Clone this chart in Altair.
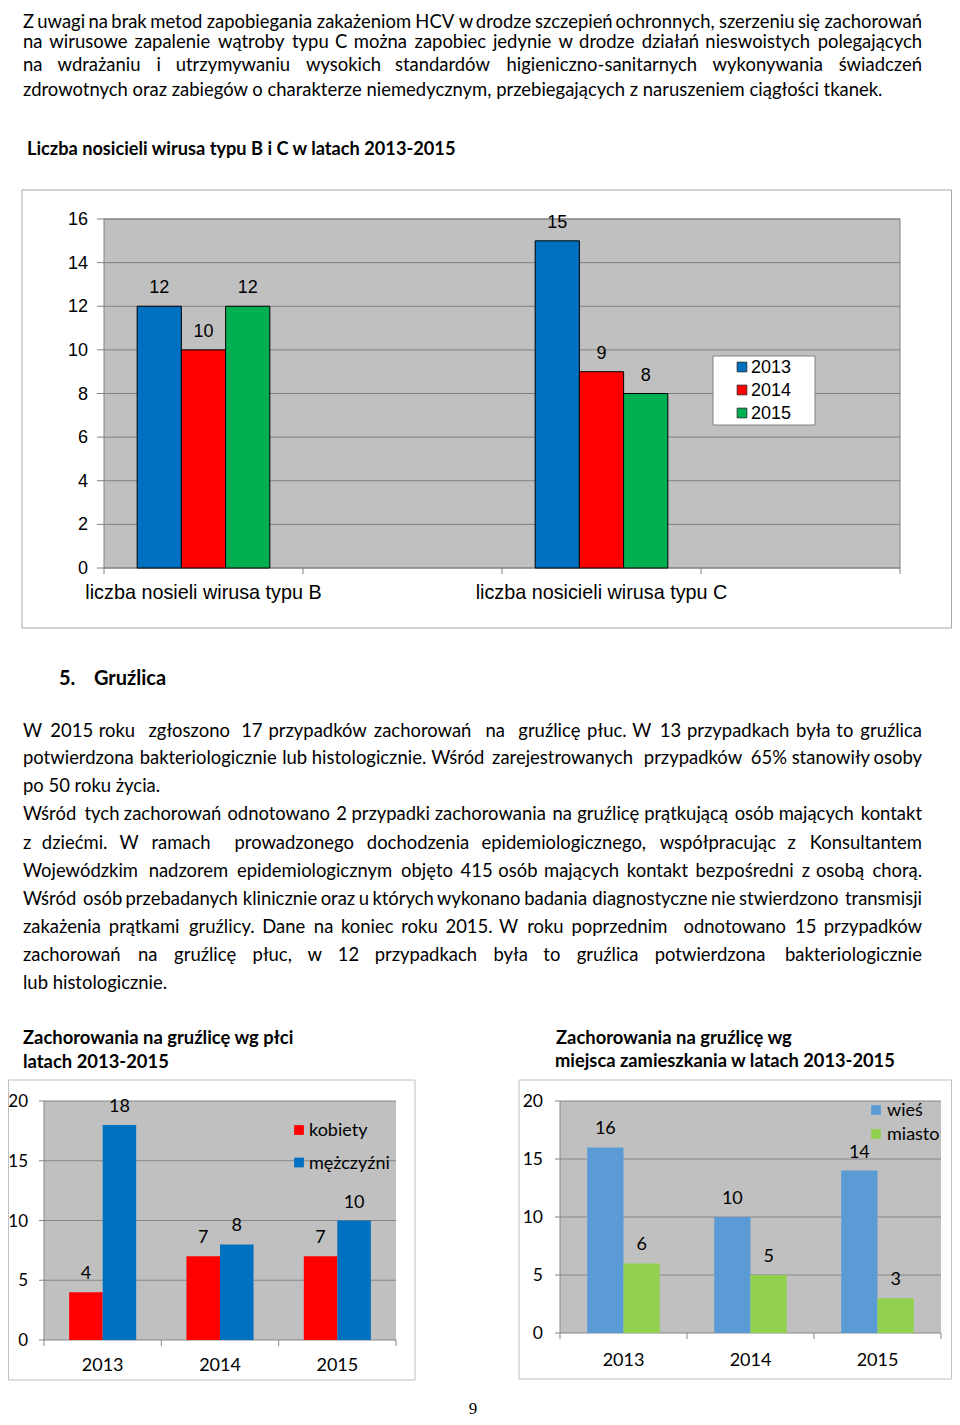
import altair as alt
import pandas as pd
import unicodedata

W, H = 944, 1409
OX, OY = 8, 8


def cx(v):
    return v - OX


def cy(v):
    return v - OY


# ---------------- chart data ----------------
carrier_groups = ["liczba nosieli wirusa typu B", "liczba nosicieli wirusa typu C"]
carrier_years = ["2013", "2014", "2015"]
carriers_2013 = [12, 15]
carriers_2014 = [10, 9]
carriers_2015 = [12, 8]
carrier_colors = ["#0070C0", "#FF0000", "#00B050"]
carrier_ticks = [0, 2, 4, 6, 8, 10, 12, 14, 16]

tb_years = ["2013", "2014", "2015"]
tb_sex = ["kobiety", "mężczyźni"]
tb_women = [4, 7, 7]
tb_men = [18, 8, 10]
sex_colors = ["#FF0000", "#0070C0"]

tb_place = ["wieś", "miasto"]
tb_village = [16, 10, 14]
tb_city = [6, 5, 3]
place_colors = ["#5B9BD5", "#92D050"]
tb_ticks = [0, 5, 10, 15, 20]

# ---------------- page text ----------------
para1 = [
    ("Z uwagi na brak metod zapobiegania zakażeniom HCV w drodze szczepień ochronnych, szerzeniu się zachorowań", 20.5, True),
    ("na wirusowe zapalenie wątroby typu C można zapobiec jedynie w drodze działań nieswoistych polegających", 41, True),
    ("na wdrażaniu i utrzymywaniu wysokich standardów higieniczno-sanitarnych wykonywania świadczeń", 64, True),
    ("zdrowotnych oraz zabiegów o charakterze niemedycznym, przebiegających z naruszeniem ciągłości tkanek.", 89, False),
]
para2 = [
    ("W 2015 roku  zgłoszono  17 przypadków zachorowań  na  gruźlicę płuc. W 13 przypadkach była to gruźlica", 730, True),
    ("potwierdzona bakteriologicznie lub histologicznie. Wśród zarejestrowanych  przypadków  65% stanowiły osoby", 757, True),
    ("po 50 roku życia.", 785, False),
]
para3 = [
    ("Wśród tych zachorowań odnotowano 2 przypadki zachorowania na gruźlicę prątkującą osób mających kontakt", 813, True),
    ("z dziećmi. W ramach  prowadzonego dochodzenia epidemiologicznego, współpracując z Konsultantem", 842, True),
    ("Wojewódzkim nadzorem epidemiologicznym objęto 415 osób mających kontakt bezpośredni z osobą chorą.", 870, True),
    ("Wśród osób przebadanych klinicznie oraz u których wykonano badania diagnostyczne nie stwierdzono transmisji", 898, True),
    ("zakażenia prątkami gruźlicy. Dane na koniec roku 2015. W roku poprzednim  odnotowano 15 przypadków", 926, True),
    ("zachorowań na gruźlicę płuc, w 12 przypadkach była to gruźlica potwierdzona bakteriologicznie", 954, True),
    ("lub histologicznie.", 982, False),
]
headings = [
    ("Liczba nosicieli wirusa typu B i C w latach 2013-2015", 27, 149, 18.2),
    ("5.", 59, 678, 20),
    ("Gruźlica", 94, 678, 20),
    ("Zachorowania na gruźlicę wg płci", 23, 1037, 18.4),
    ("latach 2013-2015", 23, 1061, 18.4),
    ("Zachorowania na gruźlicę wg", 556, 1037, 18.4),
    ("miejsca zamieszkania w latach 2013-2015", 555, 1061, 18.3),
]
page_number = "9"

BODY_FONT = "Lato"
BODY_FS = 18.45

# approximate Calibri advance widths (em), scaled per glyph class to Lato
CAL = {' ': 0.226, 'a': 0.479, 'b': 0.525, 'c': 0.423, 'd': 0.525, 'e': 0.498, 'f': 0.305,
       'g': 0.471, 'h': 0.525, 'i': 0.229, 'j': 0.239, 'k': 0.455, 'l': 0.229, 'm': 0.799,
       'n': 0.525, 'o': 0.527, 'p': 0.525, 'q': 0.525, 'r': 0.349, 's': 0.391, 't': 0.335,
       'u': 0.525, 'v': 0.452, 'w': 0.715, 'x': 0.433, 'y': 0.453, 'z': 0.395,
       'A': 0.579, 'B': 0.544, 'C': 0.533, 'D': 0.615, 'E': 0.488, 'F': 0.459, 'G': 0.631,
       'H': 0.623, 'I': 0.252, 'J': 0.319, 'K': 0.520, 'L': 0.420, 'M': 0.855, 'N': 0.646,
       'O': 0.662, 'P': 0.517, 'R': 0.543, 'S': 0.459, 'T': 0.487, 'U': 0.642, 'V': 0.567,
       'W': 0.890, 'Z': 0.487, '.': 0.252, ',': 0.250, '-': 0.306, '%': 0.86, 'ł': 0.236}


def lato_em(s):
    tot = 0.0
    for ch in s:
        if ch.isdigit():
            tot += 0.507 * 1.12
            continue
        base = ch if ch in CAL else unicodedata.normalize('NFD', ch)[0]
        w = CAL.get(base, 0.5)
        if base.isupper():
            w *= 1.28
        elif base.isalpha():
            w *= 1.085
        tot += w
    return tot


left_rows, right_rows, plain_rows = [], [], []
for line, yc, just in para1 + para2 + para3:
    if not just:
        plain_rows.append(dict(x=cx(23), y=cy(yc), t=line))
        continue
    tokens = line.split(' ')
    nsp = len(tokens) - 1
    natural = sum(lato_em(t) for t in tokens) * BODY_FS
    gap = (922 - 23 - natural) / nsp
    x = 23
    for i, t in enumerate(tokens):
        if t:
            if i == len(tokens) - 1:
                right_rows.append(dict(x=cx(922), y=cy(yc), t=t))
            else:
                left_rows.append(dict(x=cx(x), y=cy(yc), t=t))
        x += lato_em(t) * BODY_FS + gap


def text_layer(rows, align, size, weight="normal", font=BODY_FONT):
    return alt.Chart(pd.DataFrame(rows)).mark_text(
        align=align, baseline="middle", font=font, fontSize=size, fontWeight=weight,
        color="black", dy=1
    ).encode(
        x=alt.X("x:Q", scale=None),
        y=alt.Y("y:Q", scale=None),
        text="t:N",
    )


page_layers = [
    text_layer(left_rows, "left", BODY_FS),
    text_layer(right_rows, "right", BODY_FS),
    text_layer(plain_rows, "left", BODY_FS),
]
for txt, hx, hy, hs in headings:
    page_layers.append(text_layer([dict(x=cx(hx), y=cy(hy), t=txt)], "left", hs, "bold"))
page_layers.append(text_layer([dict(x=cx(473), y=cy(1408), t=page_number)], "center", 17,
                              font="Liberation Serif"))

one = pd.DataFrame({"k": [0]})


def grouped(cats, domain, series, values, colors, ticks, ymax,
            px0, px1, ptop, pbot, frame, frame_color, font, fs, tick_fs, cat_fs,
            tick_right, grid_x0, grid_color, full_border, bar_stroke,
            cat_label_y, leg_x, leg_y0, leg_step, leg_text_x, leg_box=None,
            sq_stroke=None, offset_pad=0.75):
    rows = []
    for s, vals in zip(series, values):
        for c, v in zip(cats, vals):
            rows.append({"cat": c, "ser": s, "value": v})
    df = pd.DataFrame(rows)
    xs = alt.Scale(domain=domain, range=[cx(px0), cx(px1)], paddingInner=0, paddingOuter=0)
    ys = alt.Scale(domain=[0, ymax], range=[cy(pbot), cy(ptop)], nice=False)
    offs = alt.Scale(domain=series, paddingInner=0, paddingOuter=offset_pad)
    cs = alt.Scale(domain=series, range=colors)
    L = []
    L.append(alt.Chart(one).mark_rect(fill="white", stroke=frame_color, strokeWidth=1).encode(
        x=alt.value(cx(frame[0])), x2=alt.value(cx(frame[1])),
        y=alt.value(cy(frame[2])), y2=alt.value(cy(frame[3]))))
    L.append(alt.Chart(one).mark_rect(fill="#C0C0C0").encode(
        x=alt.value(cx(px0)), x2=alt.value(cx(px1)),
        y=alt.value(cy(ptop)), y2=alt.value(cy(pbot))))
    tdf = pd.DataFrame({"v": ticks})
    L.append(alt.Chart(tdf).mark_rule(color=grid_color, strokeWidth=1).encode(
        y=alt.Y("v:Q", scale=ys, axis=None),
        x=alt.value(cx(grid_x0)), x2=alt.value(cx(px1))))
    if full_border:
        L.append(alt.Chart(one).mark_rect(fill=None, stroke=grid_color, strokeWidth=1).encode(
            x=alt.value(cx(px0)), x2=alt.value(cx(px1)),
            y=alt.value(cy(ptop)), y2=alt.value(cy(pbot))))
    else:
        L.append(alt.Chart(one).mark_rule(color=grid_color, strokeWidth=1).encode(
            x=alt.value(cx(px0)), y=alt.value(cy(ptop)), y2=alt.value(cy(pbot))))
    # bottom tick marks
    L.append(alt.Chart(pd.DataFrame({"cat": domain})).mark_rule(color=grid_color).encode(
        x=alt.X("cat:N", scale=xs, axis=None, bandPosition=0),
        y=alt.value(cy(pbot)), y2=alt.value(cy(pbot + 6))))
    L.append(alt.Chart(one).mark_rule(color=grid_color).encode(
        x=alt.value(cx(px1)), y=alt.value(cy(pbot)), y2=alt.value(cy(pbot + 6))))
    bar_kw = dict(stroke="black", strokeWidth=1) if bar_stroke else {}
    L.append(alt.Chart(df).mark_bar(**bar_kw).encode(
        x=alt.X("cat:N", scale=xs, axis=None),
        xOffset=alt.XOffset("ser:N", scale=offs),
        y=alt.Y("value:Q", scale=ys, axis=None),
        color=alt.Color("ser:N", scale=cs, legend=None)))
    L.append(alt.Chart(df).mark_text(font=font, fontSize=fs, baseline="middle", dy=-18,
                                     color="black").encode(
        x=alt.X("cat:N", scale=xs, axis=None),
        xOffset=alt.XOffset("ser:N", scale=offs),
        y=alt.Y("value:Q", scale=ys, axis=None),
        text="value:Q"))
    L.append(alt.Chart(tdf).mark_text(font=font, fontSize=tick_fs, baseline="middle", align="right",
                                      dy=1, color="black").encode(
        y=alt.Y("v:Q", scale=ys, axis=None), x=alt.value(cx(tick_right)), text="v:Q"))
    L.append(alt.Chart(pd.DataFrame({"cat": cats})).mark_text(
        font=font, fontSize=cat_fs, baseline="middle", dy=1, color="black").encode(
        x=alt.X("cat:N", scale=xs, axis=None), y=alt.value(cy(cat_label_y)), text="cat:N"))
    # legend
    if leg_box is not None:
        L.append(alt.Chart(one).mark_rect(fill="white", stroke="#808080", strokeWidth=1).encode(
            x=alt.value(cx(leg_box[0])), x2=alt.value(cx(leg_box[1])),
            y=alt.value(cy(leg_box[2])), y2=alt.value(cy(leg_box[3]))))
    ldf = pd.DataFrame({"ser": series, "i": list(range(len(series)))})
    sq_kw = dict(stroke=sq_stroke, strokeWidth=0.8) if sq_stroke else {}
    L.append(alt.Chart(ldf).transform_calculate(
        ly=f"{cy(leg_y0)} + datum.i * {leg_step}").mark_square(size=95, opacity=1, **sq_kw).encode(
        x=alt.value(cx(leg_x)), y=alt.Y("ly:Q", scale=None),
        color=alt.Color("ser:N", scale=cs, legend=None)))
    L.append(alt.Chart(ldf).transform_calculate(
        ly=f"{cy(leg_y0)} + datum.i * {leg_step}").mark_text(
        font=font, fontSize=fs, align="left", baseline="middle", dy=1, color="black").encode(
        x=alt.value(cx(leg_text_x)), y=alt.Y("ly:Q", scale=None), text="ser:N"))
    return alt.layer(*L)


chart1 = grouped(
    carrier_groups, [carrier_groups[0], " ", carrier_groups[1], "  "], carrier_years,
    [carriers_2013, carriers_2014, carriers_2015], carrier_colors, carrier_ticks, 16,
    104, 900, 219, 568, (22, 951.5, 190, 628), "#A6A6A6", "Liberation Sans", 18, 18, 19.8,
    88, 97, "#808080", True, True, 592, 742, 367, 23, 751,
    leg_box=(713, 815, 356, 425), sq_stroke="#222222")

chart2 = grouped(
    tb_years, tb_years, tb_sex, [tb_women, tb_men], sex_colors, tb_ticks, 20,
    44, 396, 1101, 1340, (8.5, 415, 1080, 1380), "#BFBFBF", BODY_FONT, 18, 17, 18,
    28, 39, "#868686", False, False, 1365, 299, 1130, 32.5, 309)

chart3 = grouped(
    tb_years, tb_years, tb_place, [tb_village, tb_city], place_colors, tb_ticks, 20,
    560, 941, 1101, 1333, (519, 951.5, 1080, 1379), "#BFBFBF", BODY_FONT, 18, 17.5, 18,
    543, 555, "#868686", False, False, 1360, 876, 1110, 24, 887)

chart = alt.layer(chart1, chart2, chart3, *page_layers).resolve_scale(
    x="independent", y="independent", color="independent", xOffset="independent"
).properties(
    width=W, height=H, autosize=alt.AutoSizeParams(type="none"), padding=0, background="white"
).configure_view(stroke=None)

chart.save("out.html", embed_options={"renderer": "svg", "actions": False})
